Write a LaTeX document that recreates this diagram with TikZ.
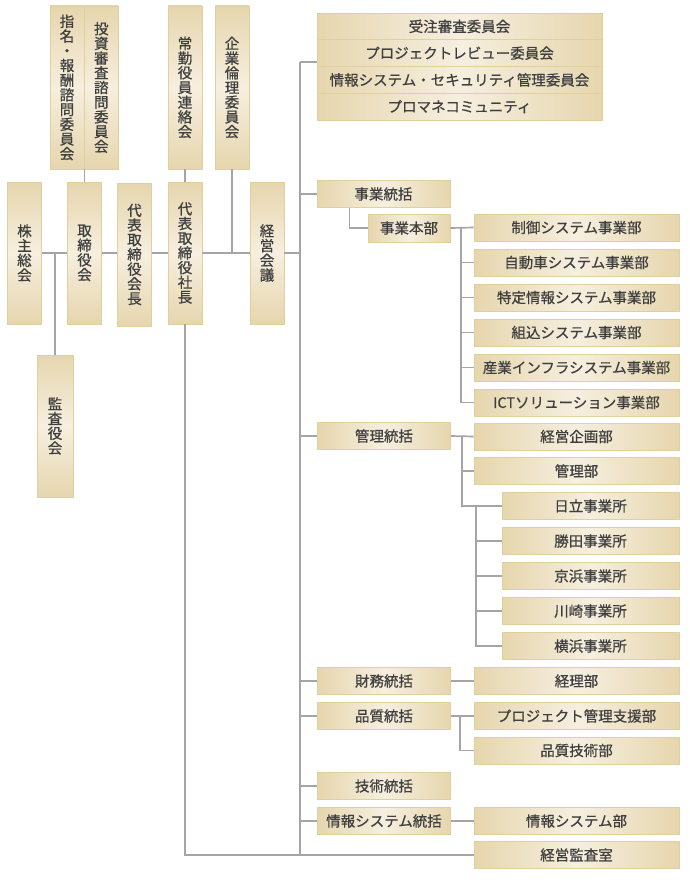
\documentclass[tikz,border=0pt]{standalone}
\usepackage{fontspec}
\setmainfont[FakeBold=0.7]{Noto Sans CJK JP}
\usetikzlibrary{calc}
\definecolor{tanc}{HTML}{E6D6AE}
\definecolor{litec}{HTML}{F6EFDF}
\definecolor{bordc}{HTML}{E2CF9E}
\definecolor{txtc}{HTML}{3F3F3F}
\definecolor{lnc}{HTML}{A5A5A5}
\begin{document}
\begin{tikzpicture}[x=1pt,y=-1pt,
  hbox/.style={draw=bordc, line width=0.8pt, left color=tanc, right color=tanc, middle color=litec,
    inner sep=0pt, minimum height=27pt, text=txtc, font=\fontsize{14.5}{16}\selectfont},
  vbox/.style={draw=bordc, line width=0.8pt, top color=tanc, bottom color=tanc, middle color=litec,
    inner sep=0pt, minimum width=34pt, text=txtc, align=center, font=\fontsize{14.5}{14.7}\selectfont},
  conn/.style={draw=lnc, line width=1.7pt}]
\useasboundingbox (0,0) rectangle (690,880);

% ---- vertical boxes
\node[vbox, minimum height=163pt] (shimei) at (67,87.5) {指\\名\\・\\報\\酬\\諮\\問\\委\\員\\会};
\node[vbox, minimum height=163pt] (toushi) at (101.3,87.5) {投\\資\\審\\査\\諮\\問\\委\\員\\会};
\node[vbox, minimum height=163pt] (joukin) at (185,87.5) {常\\勤\\役\\員\\連\\絡\\会};
\node[vbox, minimum height=163pt] (kigyou) at (232,87.5) {企\\業\\倫\\理\\委\\員\\会};
\node[vbox, minimum height=142pt] (kabu) at (24.5,253) {株\\主\\総\\会};
\node[vbox, minimum height=142pt] (tori) at (84.5,253) {取\\締\\役\\会};
\node[vbox, minimum height=143pt] (kaicho) at (134.5,254.5) {代\\表\\取\\締\\役\\会\\長};
\node[vbox, minimum height=142pt] (shacho) at (185,253) {代\\表\\取\\締\\役\\社\\長};
\node[vbox, minimum height=142pt] (keikai) at (267,253) {経\\営\\会\\議};
\node[vbox, minimum height=142pt, minimum width=36pt] (kansayaku) at (55,426) {監\\査\\役\\会};

% ---- committees
\node[hbox, minimum width=285pt, minimum height=26.75pt] (c1) at (459.5,26.4) {受注審査委員会};
\node[hbox, minimum width=285pt, minimum height=26.75pt] (c2) at (459.5,53.15) {プロジェクトレビュー委員会};
\node[hbox, minimum width=285pt, minimum height=26.75pt] (c3) at (459.5,79.9) {情報システム・セキュリティ管理委員会};
\node[hbox, minimum width=285pt, minimum height=26.75pt] (c4) at (459.5,106.65) {プロマネコミュニティ};

% ---- 統括
\node[hbox, minimum width=133pt] (jigyo) at (383.5,194) {事業統括};
\node[hbox, minimum width=82pt, minimum height=28pt] (honbu) at (409,228) {事業本部};
\node[hbox, minimum width=133pt] (kanri) at (384,436) {管理統括};
\node[hbox, minimum width=133pt] (zaimu) at (384,681) {財務統括};
\node[hbox, minimum width=133pt] (hinshitsu) at (384,716) {品質統括};
\node[hbox, minimum width=133pt] (gijutsu) at (384,786) {技術統括};
\node[hbox, minimum width=133pt] (joho) at (384,821) {情報システム統括};

% ---- departments
\node[hbox, minimum width=205pt] (d1) at (576.5,227.5) {制御システム事業部};
\node[hbox, minimum width=205pt] (d2) at (576.5,262.5) {自動車システム事業部};
\node[hbox, minimum width=205pt] (d3) at (576.5,297.5) {特定情報システム事業部};
\node[hbox, minimum width=205pt] (d4) at (576.5,332.5) {組込システム事業部};
\node[hbox, minimum width=205pt] (d5) at (576.5,367.5) {産業インフラシステム事業部};
\node[hbox, minimum width=205pt] (d6) at (576.5,402.5) {ICTソリューション事業部};

\node[hbox, minimum width=205pt] (kikaku) at (576.5,436.5) {経営企画部};
\node[hbox, minimum width=205pt] (kanribu) at (576.5,471) {管理部};
\node[hbox, minimum width=177pt] (s1) at (590.5,506) {日立事業所};
\node[hbox, minimum width=177pt] (s2) at (590.5,541) {勝田事業所};
\node[hbox, minimum width=177pt] (s3) at (590.5,576) {京浜事業所};
\node[hbox, minimum width=177pt] (s4) at (590.5,611) {川崎事業所};
\node[hbox, minimum width=177pt] (s5) at (590.5,646) {横浜事業所};

\node[hbox, minimum width=205pt] (keiri) at (576.5,681) {経理部};
\node[hbox, minimum width=205pt] (pmo) at (576.5,716) {プロジェクト管理支援部};
\node[hbox, minimum width=205pt] (hgb) at (576.5,750.5) {品質技術部};
\node[hbox, minimum width=205pt] (jsb) at (576.5,821) {情報システム部};
\node[hbox, minimum width=205pt] (kansa) at (576.5,855) {経営監査室};

% ---- connectors (left)
\draw[conn] (kabu.east) -- (tori.west);
\draw[conn] (tori.east) -- (tori.east -| kaicho.west);
\draw[conn] (kaicho.east |- shacho.west) -- (shacho.west);
\draw[conn] (shacho.east) -- (keikai.west);
\coordinate (trunktop) at (300,62);
\draw[conn] (keikai.east) -- (keikai.east -| trunktop);
\draw[conn] (kansayaku.north) -- (kansayaku.north |- kabu.east);
\draw[conn] (tori.north) -- (tori.north |- shimei.south);
\draw[conn] (joukin.south) -- (shacho.north);
\draw[conn] (kigyou.south) -- (kigyou.south |- keikai.west);
\draw[conn] (shacho.south) -- (shacho.south |- kansa.west) -- (kansa.west);

% ---- trunk
\draw[conn] (trunktop) -- (trunktop |- kansa.west);
\draw[conn] (trunktop) -- (trunktop -| c1.west);
\foreach \n in {jigyo,kanri,zaimu,hinshitsu,gijutsu,joho}
  \draw[conn] (trunktop |- \n.west) -- (\n.west);

% ---- 事業本部
\coordinate (jb) at ([xshift=33pt]jigyo.south west);
\draw[conn] (jb) -- (jb |- honbu.west) -- (honbu.west);
\coordinate (hv) at (461,0);
\draw[conn] (honbu.east) -- (d1.west);
\draw[conn] (hv |- d1.west) -- (hv |- d6.west) -- (d6.west);
\foreach \n in {d2,d3,d4,d5}
  \draw[conn] (hv |- \n.west) -- (\n.west);

% ---- 管理統括
\coordinate (kv) at (462,0);
\draw[conn] (kanri.east) -- (kikaku.west);
\draw[conn] (kv |- kikaku.west) -- (kv |- s1.west) -- (s1.west);
\draw[conn] (kv |- kanribu.west) -- (kanribu.west);
\coordinate (sv) at (476,0);
\draw[conn] (sv |- s1.west) -- (sv |- s5.west) -- (s5.west);
\foreach \n in {s2,s3,s4}
  \draw[conn] (sv |- \n.west) -- (\n.west);

% ---- others
\draw[conn] (zaimu.east) -- (keiri.west);
\coordinate (qv) at (460,0);
\draw[conn] (hinshitsu.east) -- (pmo.west);
\draw[conn] (qv |- pmo.west) -- (qv |- hgb.west) -- (hgb.west);
\draw[conn] (joho.east) -- (jsb.west);
\end{tikzpicture}
\end{document}
